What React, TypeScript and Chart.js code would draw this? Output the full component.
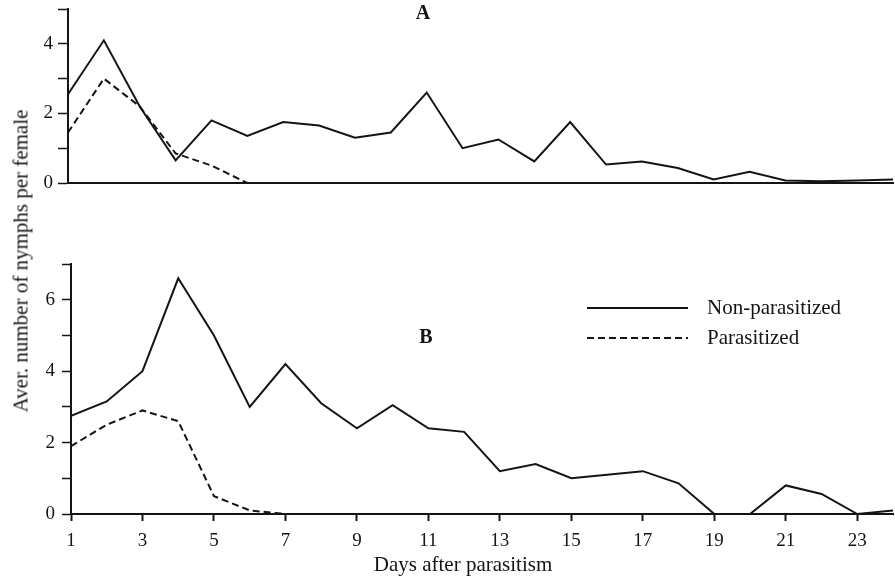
import React, { useEffect, useRef } from "react";
import { Chart, registerables } from "chart.js";

Chart.register(...registerables);

// ---- data ----
const days = [1, 2, 3, 4, 5, 6, 7, 8, 9, 10, 11, 12, 13, 14, 15, 16, 17, 18, 19, 20, 21, 22, 23, 24];
const xTickValues = [1, 3, 5, 7, 9, 11, 13, 15, 17, 19, 21, 23];

const nonParasitizedA = [2.55, 4.1, 2.2, 0.65, 1.8, 1.35, 1.75, 1.65, 1.3, 1.45, 2.6, 1.0, 1.25, 0.62, 1.75, 0.53, 0.62, 0.43, 0.1, 0.32, 0.07, 0.05, 0.07, 0.1];
const parasitizedA = [1.45, 3.0, 2.2, 0.85, 0.5, 0, 0, null, null, null, null, null, null, null, null, null, null, null, null, null, null, null, null, null];

const nonParasitizedB = [2.75, 3.15, 4.0, 6.6, 5.0, 3.0, 4.2, 3.1, 2.4, 3.05, 2.4, 2.3, 1.2, 1.4, 1.0, 1.1, 1.2, 0.86, 0, 0, 0.8, 0.56, 0, 0.1];
const parasitizedB = [1.9, 2.5, 2.9, 2.6, 0.5, 0.1, 0, null, null, null, null, null, null, null, null, null, null, null, null, null, null, null, null, null];

const seriesNames = ["Non-parasitized", "Parasitized"];
const panelLabels = ["A", "B"];
const xTitle = "Days after parasitism";
const yTitle = "Aver. number of nymphs per female";

const INK = "#141414";
const FONT = "'Liberation Serif', 'DejaVu Serif', serif";
const DASH = [7, 4];

function toPoints(vals: (number | null)[]) {
  return days.map((d, i) => ({ x: d, y: vals[i] }));
}

function makePlugin(label: string, lx: number, ly: number, showLegend: boolean) {
  return {
    id: "annot" + label,
    afterDraw(chart: any) {
      const ctx = chart.ctx;
      ctx.save();
      ctx.fillStyle = INK;
      ctx.font = `bold 20px ${FONT}`;
      ctx.textAlign = "center";
      ctx.textBaseline = "middle";
      ctx.fillText(label, lx, ly);
      if (showLegend) {
        const rows = [58, 88];
        chart.data.datasets.forEach((ds: any, i: number) => {
          const y = rows[i];
          ctx.strokeStyle = INK;
          ctx.lineWidth = 2;
          ctx.setLineDash(ds.borderDash || []);
          ctx.beginPath();
          ctx.moveTo(587, y);
          ctx.lineTo(688, y);
          ctx.stroke();
          ctx.setLineDash([]);
          ctx.font = `21px ${FONT}`;
          ctx.textAlign = "left";
          ctx.fillText(ds.label, 707, y);
        });
        // x axis title
        ctx.font = `21px ${FONT}`;
        ctx.textAlign = "center";
        ctx.fillText(xTitle, 463, 315);
      }
      ctx.restore();
    },
  };
}

function buildChart(
  canvas: HTMLCanvasElement,
  a: (number | null)[],
  b: (number | null)[],
  yMax: number,
  opts: { padTop: number; yWidth: number; xHeight: number; bottomAxis: boolean; tickLen: number; tickPad: number },
  plugin: any
) {
  return new Chart(canvas, {
    type: "line",
    data: {
      datasets: [
        { label: seriesNames[0], data: toPoints(a), borderColor: INK, borderWidth: 2, pointRadius: 0, tension: 0, spanGaps: false },
        { label: seriesNames[1], data: toPoints(b), borderColor: INK, borderWidth: 2, borderDash: DASH, pointRadius: 0, tension: 0, spanGaps: false },
      ],
    },
    options: {
      animation: false,
      responsive: false,
      maintainAspectRatio: false,
      layout: { padding: { top: opts.padTop, right: 2, left: 0, bottom: 0 } },
      plugins: { legend: { display: false }, tooltip: { enabled: false } },
      scales: {
        x: {
          type: "linear",
          min: 1,
          max: 24,
          afterBuildTicks: (scale: any) => {
            scale.ticks = xTickValues.map((v) => ({ value: v }));
          },
          afterFit: (scale: any) => {
            scale.height = opts.xHeight;
            scale.paddingLeft = 0;
            scale.paddingRight = 0;
          },
          grid: {
            drawOnChartArea: false,
            drawTicks: opts.bottomAxis,
            tickLength: 7,
            tickWidth: 2,
            color: INK,
          },
          border: { display: true, color: INK, width: 2 },
          ticks: {
            display: opts.bottomAxis,
            color: INK,
            font: { family: FONT, size: 19 },
            padding: 9,
            maxRotation: 0,
            autoSkip: false,
            callback: (v: any) => String(v),
          },
        },
        y: {
          type: "linear",
          min: 0,
          max: yMax,
          afterFit: (scale: any) => {
            scale.width = opts.yWidth;
            scale.paddingTop = 0;
            scale.paddingBottom = 0;
          },
          grid: {
            drawOnChartArea: false,
            drawTicks: true,
            tickLength: opts.tickLen,
            tickWidth: 1.5,
            color: INK,
          },
          border: { display: true, color: INK, width: 2 },
          ticks: {
            stepSize: 1,
            color: INK,
            font: { family: FONT, size: 19 },
            padding: opts.tickPad,
            callback: (v: any) => (Number(v) % 2 === 0 ? String(v) : ""),
          },
        },
      },
    },
    plugins: [plugin],
  } as any);
}

export default function App() {
  const topRef = useRef<HTMLCanvasElement>(null);
  const botRef = useRef<HTMLCanvasElement>(null);

  useEffect(() => {
    const c1 = buildChart(
      topRef.current!,
      nonParasitizedA,
      parasitizedA,
      5,
      { padTop: 9, yWidth: 68, xHeight: 17, bottomAxis: false, tickLen: 10, tickPad: 5 },
      makePlugin(panelLabels[0], 423, 14, false)
    );
    const c2 = buildChart(
      botRef.current!,
      nonParasitizedB,
      parasitizedB,
      7,
      { padTop: 14, yWidth: 71, xHeight: 66, bottomAxis: true, tickLen: 9, tickPad: 7 },
      makePlugin(panelLabels[1], 426, 88, true)
    );
    return () => {
      c1.destroy();
      c2.destroy();
    };
  }, []);

  return (
    <div style={{ position: "fixed", left: 0, top: 0, width: 895, height: 580, background: "#fff", overflow: "hidden" }}>
      <canvas ref={topRef} width={895} height={200} style={{ position: "absolute", left: 0, top: 0, width: 895, height: 200 }} />
      <canvas ref={botRef} width={895} height={330} style={{ position: "absolute", left: 0, top: 250, width: 895, height: 330 }} />
      <div
        style={{
          position: "absolute",
          left: 21,
          top: 261,
          transform: "translate(-50%, -50%) rotate(-90deg)",
          whiteSpace: "nowrap",
          fontFamily: FONT,
          fontSize: 21,
          lineHeight: 1,
          color: INK,
        }}
      >
        {yTitle}
      </div>
    </div>
  );
}
